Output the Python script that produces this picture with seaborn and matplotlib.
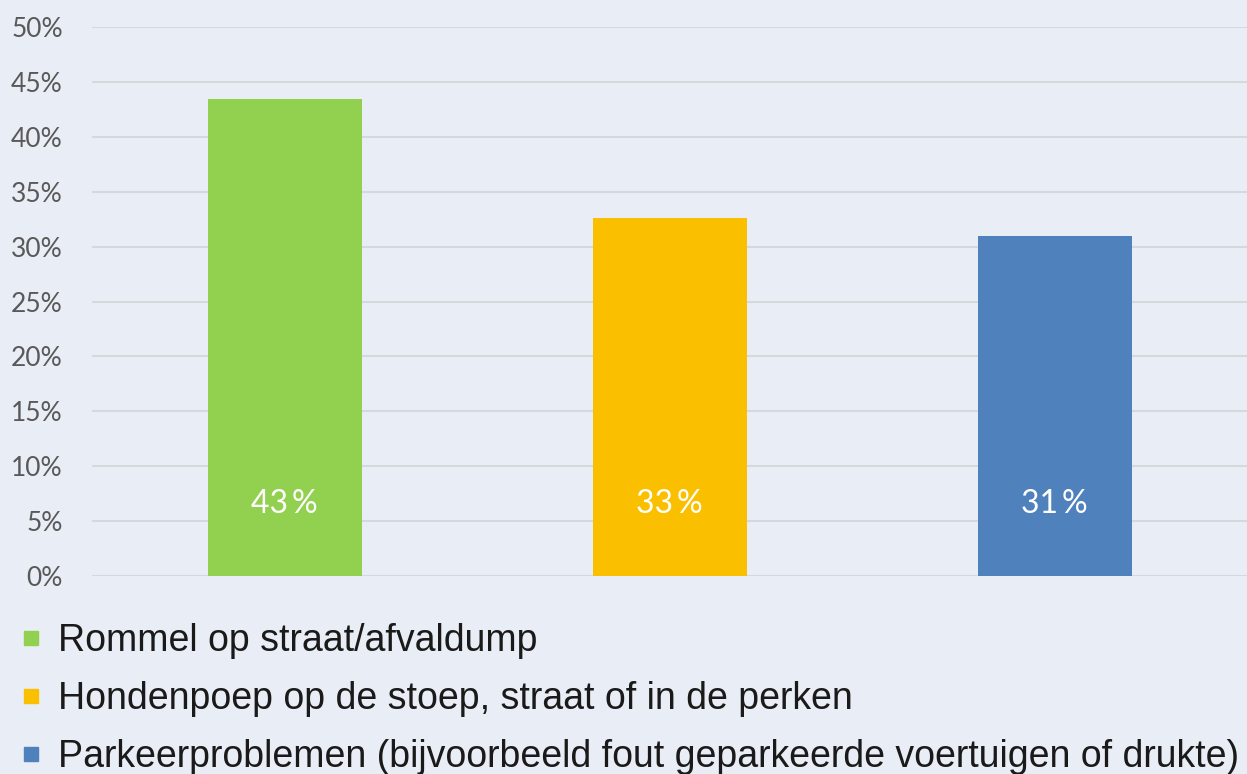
import matplotlib
matplotlib.use("Agg")
import matplotlib.pyplot as plt
from matplotlib.lines import Line2D
from matplotlib.ticker import PercentFormatter
import seaborn as sns
import pandas as pd

# ── Data ─────────────────────────────────────────────────────────────────────
categories = [
    "Rommel op straat/afvaldump",
    "Hondenpoep op de stoep, straat of in de perken",
    "Parkeerproblemen (bijvoorbeeld fout geparkeerde voertuigen of drukte)",
]
values = [43.4, 32.6, 31.0]
labels = ["43\u2009%", "33\u2009%", "31\u2009%"]
colors = ["#92D050", "#FAC000", "#4F81BD"]
y_ticks = [0, 5, 10, 15, 20, 25, 30, 35, 40, 45, 50]

BG = "#E9EDF5"
df = pd.DataFrame({"category": categories, "value": values})

sns.set_theme(style="white")
plt.rcParams["font.family"] = ["Lato", "DejaVu Sans"]

fig = plt.figure(figsize=(12.47, 7.74), dpi=100, facecolor=BG)
ax = fig.add_axes([92 / 1247, 1 - 576 / 774, 1 - 92 / 1247, (576 - 27) / 774])
ax.set_facecolor(BG)

sns.barplot(data=df, x="category", y="value", hue="category",
            palette=colors, width=0.4, saturation=1, legend=False,
            linewidth=0, ax=ax)

ax.set_xlim(-0.5, 2.5)
ax.set_ylim(0, 50)
ax.set_yticks(y_ticks)
ax.yaxis.set_major_formatter(PercentFormatter(decimals=0))
ax.grid(axis="y", color="#D5D8DD", linewidth=1.5)
ax.set_axisbelow(True)
for s in ax.spines.values():
    s.set_visible(False)
ax.set_xticks([])
ax.set_xlabel("")
ax.set_ylabel("")
ax.tick_params(axis="y", length=0, pad=21, labelsize=19, labelcolor="#595959")

for i, lab in enumerate(labels):
    ax.text(i, 6.6, lab, ha="center", va="center", color="white", fontsize=23)

# ── Legend below the plot ───────────────────────────────────────────────────
handles = [Line2D([], [], marker="s", linestyle="", markersize=9.5,
                  markerfacecolor=c, markeredgecolor=c) for c in colors]
fig.legend(handles, categories, loc="upper left", bbox_to_anchor=(-0.005, 0.219),
           frameon=False, handletextpad=0.2, labelspacing=0.59, borderpad=0,
           handlelength=1.0, prop={"family": "Liberation Sans", "size": 27},
           labelcolor="#1A1A1A")

fig.savefig("out.png", dpi=100, facecolor=BG)
